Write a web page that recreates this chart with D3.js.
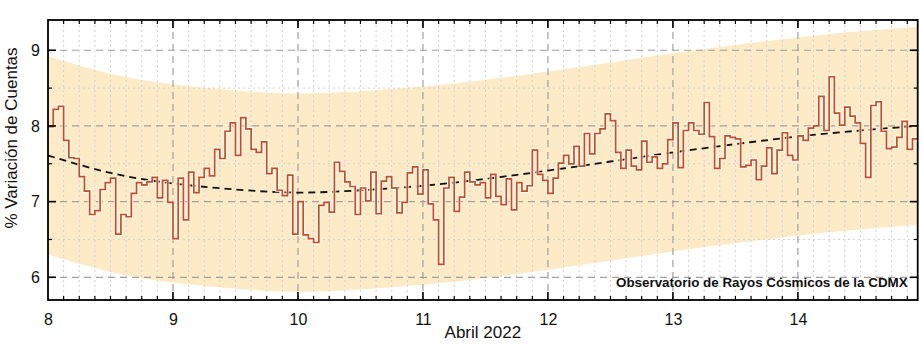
<!DOCTYPE html>
<html>
<head>
<meta charset="utf-8">
<script src="https://cdn.jsdelivr.net/npm/d3@7"></script>
<style>
  html, body { margin: 0; padding: 0; background: #fff; }
  svg { display: block; font-family: "Liberation Sans", Arial, sans-serif; }
</style>
</head>
<body>
<svg id="chart" width="923" height="344"></svg>
<script>
// Hourly count variation (%) per day, April 2022, starting 00:00 each day
const hourlyApr08 = [7.99,8.22,8.26,7.81,7.58,7.57,7.33,7.14,6.83,6.88,7.16,7.25,7.31,6.57,6.83,6.80,7.11,7.25,7.22,7.26,7.32,7.05,7.28,6.99];
const hourlyApr09 = [6.51,7.31,6.76,7.39,7.12,7.32,7.44,7.34,7.69,7.57,7.93,8.04,7.61,8.11,7.96,7.69,7.65,7.79,7.37,7.44,7.15,7.08,7.35,6.57];
const hourlyApr10 = [7.00,6.56,6.51,6.46,6.95,6.99,6.86,7.52,7.40,7.26,7.20,6.83,7.18,7.01,7.39,6.84,7.27,7.33,7.18,6.85,6.99,7.38,7.46,7.10];
const hourlyApr11 = [7.42,6.97,6.76,6.17,7.18,7.32,6.87,7.06,7.39,7.26,7.22,7.25,7.05,7.36,7.07,6.96,7.30,6.89,7.25,7.14,7.21,7.68,7.36,7.28];
const hourlyApr12 = [7.11,7.31,7.51,7.61,7.50,7.73,7.47,7.90,7.63,7.90,7.96,8.16,8.07,7.65,7.44,7.68,7.47,7.42,7.80,7.52,7.59,7.44,7.50,7.82];
const hourlyApr13 = [8.04,7.45,7.94,8.04,7.94,7.89,8.31,7.86,7.44,7.57,7.87,7.85,7.83,7.46,7.48,7.55,7.29,7.47,7.71,7.37,7.68,7.91,7.61,7.55];
const hourlyApr14 = [7.87,7.81,7.97,8.00,8.39,7.94,8.65,8.17,8.01,8.25,8.13,8.04,7.77,7.32,8.27,8.32,7.93,7.70,7.72,7.85,8.06,7.69,7.83];

const firstDay = 8;

// Trend curve and its confidence band, sampled every half day
const trendDay   = [8, 8.5, 9, 9.5, 10, 10.5, 11, 11.5, 12, 12.5, 13, 13.5, 14, 14.5, 14.958];
const trendValue = [7.61,7.38,7.24,7.16,7.12,7.15,7.21,7.30,7.41,7.53,7.65,7.76,7.86,7.94,8.00];
const bandUpper  = [8.92,8.69,8.55,8.47,8.43,8.46,8.52,8.61,8.72,8.84,8.96,9.07,9.17,9.25,9.31];
const bandLower  = [6.30,6.07,5.93,5.85,5.81,5.84,5.90,5.99,6.10,6.22,6.34,6.45,6.55,6.63,6.69];

const xTicks = [8, 9, 10, 11, 12, 13, 14];
const yTicks = [6, 7, 8, 9];
const xLabel = "Abril 2022";
const yLabel = "% Variación de Cuentas";
const credit = "Observatorio de Rayos Cósmicos de la CDMX";

// ---- build series ----
const hourly = [].concat(hourlyApr08, hourlyApr09, hourlyApr10, hourlyApr11, hourlyApr12, hourlyApr13, hourlyApr14);
const series = hourly.map((v, i) => ({ t: firstDay + i / 24, v }));
const lastT = firstDay + hourly.length / 24;
const trend = trendDay.map((d, i) => ({ t: d, v: trendValue[i], hi: bandUpper[i], lo: bandLower[i] }));

const svg = d3.select("#chart");
const margin = { left: 48, right: 5.3, top: 20, bottom: 44 };
const W = 923, H = 344;
const x = d3.scaleLinear().domain([firstDay, lastT]).range([margin.left, W - margin.right]);
const y = d3.scaleLinear().domain([5.7, 9.4]).range([H - margin.bottom, margin.top]);
const x0 = x.range()[0], x1 = x.range()[1], y0 = y.range()[0], y1 = y.range()[1];

svg.append("defs").append("clipPath").attr("id", "plot")
  .append("rect").attr("x", x0).attr("y", y1).attr("width", x1 - x0).attr("height", y0 - y1);

const plot = svg.append("g").attr("clip-path", "url(#plot)");

// confidence band
plot.append("path")
  .datum(trend)
  .attr("fill", "#fdebc8")
  .attr("d", d3.area().x(d => x(d.t)).y0(d => y(d.lo)).y1(d => y(d.hi)).curve(d3.curveNatural));

// minor grid: every 3 hours, every 0.5 %
const minorX = d3.range(0, 7 * 8).map(i => firstDay + i / 8).filter(t => Math.abs(t - Math.round(t)) > 1e-6 && t < lastT);
const minorY = d3.range(5.5, 9.5, 0.5).filter(v => Math.abs(v - Math.round(v)) > 1e-6);
const grid = plot.append("g");
grid.selectAll("line.mx").data(minorX).join("line")
  .attr("x1", d => x(d)).attr("x2", d => x(d)).attr("y1", y1).attr("y2", y0)
  .attr("stroke", "#d2d2d2").attr("stroke-width", 1).attr("stroke-dasharray", "2,3");
grid.selectAll("line.my").data(minorY).join("line")
  .attr("y1", d => y(d)).attr("y2", d => y(d)).attr("x1", x0).attr("x2", x1)
  .attr("stroke", "#d2d2d2").attr("stroke-width", 1).attr("stroke-dasharray", "2,3");
// major grid
grid.selectAll("line.Mx").data(xTicks.slice(1)).join("line")
  .attr("x1", d => x(d)).attr("x2", d => x(d)).attr("y1", y1).attr("y2", y0)
  .attr("stroke", "#a0a0a0").attr("stroke-width", 1.2).attr("stroke-dasharray", "7,5");
grid.selectAll("line.My").data(yTicks).join("line")
  .attr("y1", d => y(d)).attr("y2", d => y(d)).attr("x1", x0).attr("x2", x1)
  .attr("stroke", "#a0a0a0").attr("stroke-width", 1.2).attr("stroke-dasharray", "7,5");

// trend curve
plot.append("path")
  .datum(trend)
  .attr("fill", "none").attr("stroke", "#111").attr("stroke-width", 1.8).attr("stroke-dasharray", "7,5")
  .attr("d", d3.line().x(d => x(d.t)).y(d => y(d.v)).curve(d3.curveNatural));

// hourly step line (each value held for its hour)
const stepPts = series.concat([{ t: lastT, v: series[series.length - 1].v }]);
const stepLine = d3.line().x(d => x(d.t)).y(d => y(d.v)).curve(d3.curveStepAfter);
plot.append("path").datum(stepPts)
  .attr("fill", "none").attr("stroke", "rgba(255,255,255,0.7)").attr("stroke-width", 3.8)
  .attr("d", stepLine);
plot.append("path").datum(stepPts)
  .attr("fill", "none").attr("stroke", "#c24f2a").attr("stroke-width", 1.7)
  .attr("d", stepLine);

// credit text
svg.append("text")
  .attr("x", x1 - 10).attr("y", y0 - 13)
  .attr("text-anchor", "end").attr("font-weight", "bold").attr("font-size", 13.4)
  .attr("fill", "#111").text(credit);

// axes with inward ticks on all four sides
const minorYAll = minorY.filter(v => v > 5.7 && v < 9.4);
function ticksX(g, yPos, dir) {
  g.selectAll("line.tM").data(xTicks.slice(1)).join("line")
    .attr("x1", d => x(d)).attr("x2", d => x(d)).attr("y1", yPos).attr("y2", yPos + dir * 8)
    .attr("stroke", "#000").attr("stroke-width", 1.6);
  g.selectAll("line.tm").data(minorX).join("line")
    .attr("x1", d => x(d)).attr("x2", d => x(d)).attr("y1", yPos).attr("y2", yPos + dir * 4)
    .attr("stroke", "#000").attr("stroke-width", 1.2);
}
function ticksY(g, xPos, dir) {
  g.selectAll("line.tM").data(yTicks).join("line")
    .attr("y1", d => y(d)).attr("y2", d => y(d)).attr("x1", xPos).attr("x2", xPos + dir * 8)
    .attr("stroke", "#000").attr("stroke-width", 1.6);
  g.selectAll("line.tm").data(minorYAll).join("line")
    .attr("y1", d => y(d)).attr("y2", d => y(d)).attr("x1", xPos).attr("x2", xPos + dir * 4)
    .attr("stroke", "#000").attr("stroke-width", 1.2);
}
ticksX(svg.append("g"), y0, -1);
ticksX(svg.append("g"), y1, 1);
ticksY(svg.append("g"), x0, 1);
ticksY(svg.append("g"), x1, -1);

svg.append("rect")
  .attr("x", x0).attr("y", y1).attr("width", x1 - x0).attr("height", y0 - y1)
  .attr("fill", "none").attr("stroke", "#000").attr("stroke-width", 1.8);

// tick labels via d3 axes (lines hidden, frame drawn above)
const xAxis = svg.append("g").attr("transform", `translate(0,${y0})`)
  .call(d3.axisBottom(x).tickValues(xTicks).tickFormat(d3.format("d")).tickSize(0).tickPadding(14));
const yAxis = svg.append("g").attr("transform", `translate(${x0},0)`)
  .call(d3.axisLeft(y).tickValues(yTicks).tickFormat(d3.format("d")).tickSize(0).tickPadding(8));
[xAxis, yAxis].forEach(g => {
  g.select(".domain").remove();
  g.selectAll("text").attr("font-size", 16).attr("fill", "#111")
    .attr("font-family", '"Liberation Sans", Arial, sans-serif');
});

svg.append("text")
  .attr("x", (x0 + x1) / 2).attr("y", 338)
  .attr("text-anchor", "middle").attr("font-size", 17).attr("fill", "#111").text(xLabel);
svg.append("text")
  .attr("transform", `translate(17,${(y0 + y1) / 2 - 22}) rotate(-90)`)
  .attr("text-anchor", "middle").attr("font-size", 17).attr("fill", "#111").text(yLabel);
</script>
</body>
</html>
